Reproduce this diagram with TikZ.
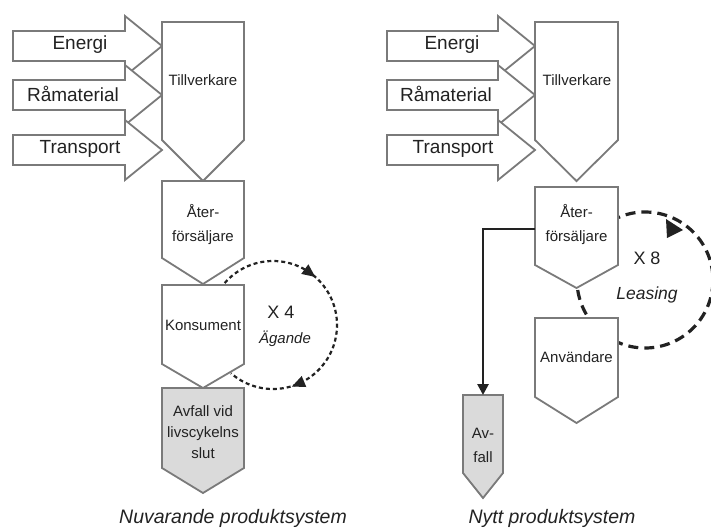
\documentclass[tikz,border=0pt]{standalone}
\usepackage{fontspec}
\setmainfont{Liberation Sans}
\usetikzlibrary{arrows.meta}
\definecolor{boxgray}{HTML}{7A7A7A}
\definecolor{wastegray}{HTML}{DADADA}
\definecolor{inkgray}{HTML}{222222}

\begin{document}
\begin{tikzpicture}[x=1pt,y=-1pt,
    box/.style={draw=boxgray,line width=1.8pt,fill=white},
    wastebox/.style={box,fill=wastegray},
    inlbl/.style={text=inkgray,inner sep=0pt,font=\fontsize{19}{22}\selectfont},
    lbl/.style={text=inkgray,inner sep=0pt,align=center,font=\fontsize{15}{24}\selectfont},
    cnt/.style={text=inkgray,inner sep=0pt,font=\fontsize{18}{20}\selectfont},
    ownloop/.style={draw=inkgray,line width=2.2pt,dash pattern=on 4pt off 3pt},
    leaseloop/.style={draw=inkgray,line width=3.2pt,dash pattern=on 10pt off 6pt},
    loophead/.style={fill=inkgray},
    wasteline/.style={draw=inkgray,line width=2.6pt,-{Triangle[length=11pt,width=11pt]}}]
        \useasboundingbox (0,0) rectangle (711,527);
        \coordinate (lc) at (273,325);
        \coordinate (rc) at (645,280);

        % loops first, the boxes hide what lies under them
        \path[ownloop] ([shift={(139:64pt)}]lc) arc[start angle=139,end angle=-131,radius=64pt];
        \path[loophead] (315.2,276.9) -- (301.2,273.9) -- (308.4,264.3) -- cycle;
        \path[loophead] (292.0,386.5) -- (301.7,376.0) -- (306.3,387.0) -- cycle;
        \path[leaseloop] ([shift={(120:68pt)}]rc) arc[start angle=120,end angle=-240,radius=68pt];
        \path[loophead] (666,219) -- (683,230) -- (667,238) -- cycle;

        % left: Nuvarande produktsystem
        \path[box] (13,31) -- (125,31) -- (125,16) -- (162,46) -- (125,76) -- (125,61) -- (13,61) -- cycle;
        \path[box] (13,80) -- (125,80) -- (125,65) -- (162,95) -- (125,125) -- (125,110) -- (13,110) -- cycle;
        \path[box] (13,135) -- (125,135) -- (125,120) -- (162,150) -- (125,180) -- (125,165) -- (13,165) -- cycle;
        \path[box] (162,22) -- (244,22) -- (244,140) -- (203,181) -- (162,140) -- cycle;
        \path[box] (162,181) -- (244,181) -- (244,258) -- (203,284) -- (162,258) -- cycle;
        \path[box] (162,285) -- (244,285) -- (244,364) -- (203,388) -- (162,364) -- cycle;
        \path[wastebox] (162,388) -- (244,388) -- (244,468) -- (203,493) -- (162,468) -- cycle;

        \node[inlbl] (en1) at (80,45) {Energi};
        \node[inlbl] (ra1) at (73,94) {Råmaterial};
        \node[inlbl] (tr1) at (80,149) {Transport};
        \node[lbl] (ti1) at (203,80) {Tillverkare};
        \node[lbl] (af1) at (203,225) {Åter-\\försäljare};
        \node[lbl] (ko1) at (203,325) {Konsument};
        \node[lbl,font=\fontsize{15}{21}\selectfont] (av1) at (203,432) {Avfall vid\\livscykelns\\slut};
        \node[cnt] (x4) at (281,312) {X 4};
        \node[lbl,font=\fontsize{15}{18}\selectfont\itshape] (ag) at (285,339) {Ägande};
        \node[inlbl,font=\fontsize{19.5}{22}\selectfont\itshape] (t1) at (233,518) {Nuvarande produktsystem};

        % right: Nytt produktsystem
        \path[box] (387,31) -- (498,31) -- (498,16) -- (535,46) -- (498,76) -- (498,61) -- (387,61) -- cycle;
        \path[box] (387,80) -- (498,80) -- (498,65) -- (535,95) -- (498,125) -- (498,110) -- (387,110) -- cycle;
        \path[box] (387,135) -- (498,135) -- (498,120) -- (535,150) -- (498,180) -- (498,165) -- (387,165) -- cycle;
        \path[box] (535,22) -- (618,22) -- (618,140) -- (576.5,181) -- (535,140) -- cycle;
        \path[box] (535,187) -- (618,187) -- (618,265) -- (576.5,288) -- (535,265) -- cycle;
        \path[box] (535,318) -- (618,318) -- (618,397) -- (576.5,423) -- (535,397) -- cycle;
        \path[wastebox] (463,395) -- (503,395) -- (503,473) -- (483,498) -- (463,473) -- cycle;

        \node[inlbl] (en2) at (452,45) {Energi};
        \node[inlbl] (ra2) at (446,94) {Råmaterial};
        \node[inlbl] (tr2) at (453,149) {Transport};
        \node[lbl] (ti2) at (577,80) {Tillverkare};
        \node[lbl] (af2) at (576.5,225) {Åter-\\försäljare};
        \node[lbl] (an2) at (576.5,357) {Användare};
        \node[lbl] (av2) at (483,445) {Av-\\fall};
        \node[cnt] (x8) at (647,258) {X 8};
        \node[inlbl,font=\fontsize{17.5}{20}\selectfont\itshape] (le) at (647,295) {Leasing};
        \node[inlbl,font=\fontsize{19.5}{22}\selectfont\itshape] (t2) at (552,518) {Nytt produktsystem};

        \coordinate (af2w) at (535,229);
        \coordinate (av2n) at (483,395);
        \path[wasteline] (af2w) -| (av2n);
    \end{tikzpicture}
\end{document}
